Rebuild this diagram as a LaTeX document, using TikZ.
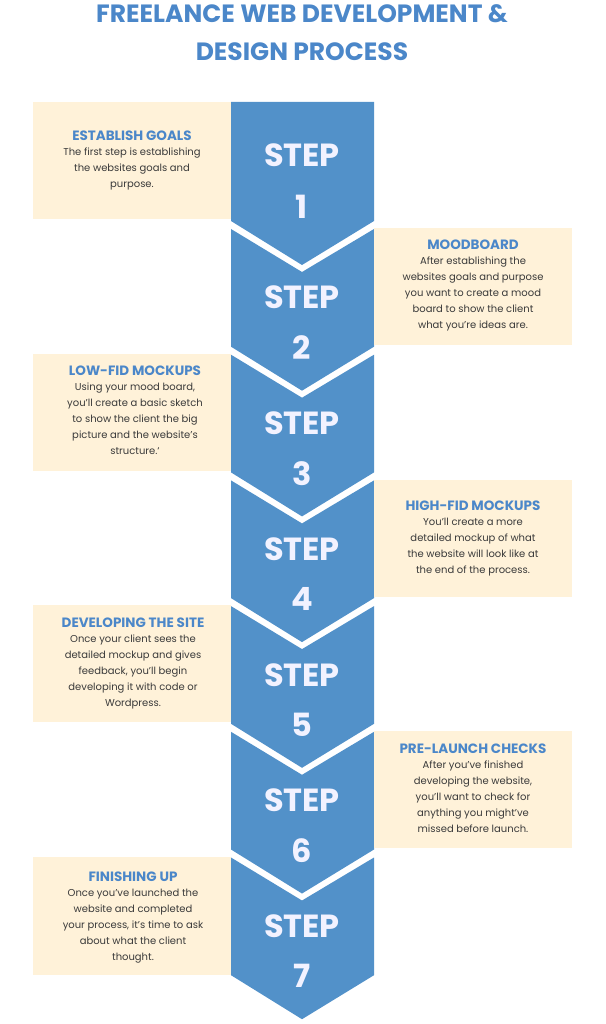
\documentclass[tikz,border=0pt]{standalone}
\usepackage{fontspec}
\setmainfont{Poppins}
\usetikzlibrary{positioning}
\definecolor{stepblue}{HTML}{5291C9}
\definecolor{headblue}{HTML}{4B87C9}
\definecolor{cream}{HTML}{FFF2D9}
\definecolor{bodygray}{HTML}{3A3A3A}
\tikzset{
  infobox/.style={fill=cream, minimum width=198pt, align=center, inner sep=0pt},
  boxhead/.style={text=headblue, font=\bfseries\fontsize{13.5}{16}\selectfont},
  boxbody/.style={text=bodygray, font=\fontsize{10}{16}\selectfont, align=center},
  steptext/.style={text=white!95!blue, font=\bfseries\fontsize{32}{34}\selectfont},
  titletext/.style={text=headblue, font=\bfseries\fontsize{25}{38}\selectfont, align=center}
}
\begin{document}
\begin{tikzpicture}[x=1pt,y=-1pt]
\useasboundingbox (0,0) rectangle (605,1024);
% title
\node[titletext] (title) at (302,33) {FREELANCE WEB DEVELOPMENT \&\\DESIGN PROCESS};

% chevrons
\foreach \k in {1,...,7}{
  \pgfmathsetmacro{\bot}{221+125.7*(\k-1)}
  \pgfmathsetmacro{\top}{\k==1 ? 102 : \bot-125.7+8}
  \pgfmathsetmacro{\notch}{\k==1 ? 102 : \top+43}
  \fill[stepblue] (231,\top) -- (302,\notch) -- (374,\top) -- (374,\bot)
    -- (302,\bot+44) -- (231,\bot) -- cycle;
  \pgfmathsetmacro{\wy}{\k==1 ? \bot-66 : \bot-49}
  \pgfmathsetmacro{\ny}{\k==1 ? \bot-14 : \bot+1}
  \node[steptext] (step\k) at (302,\wy) {STEP};
  \node[steptext] (num\k) at (302,\ny) {\k};
}

% boxes
\fill[cream] (33,102) rectangle (231,219);
\fill[cream] (374,228) rectangle (572,345);
\fill[cream] (33,354) rectangle (231,471);
\fill[cream] (374,480) rectangle (572,597);
\fill[cream] (33,605) rectangle (231,722);
\fill[cream] (374,731) rectangle (572,848);
\fill[cream] (33,857) rectangle (231,975);

% texts
\node[boxhead] (goals) at (132,136) {ESTABLISH GOALS};
\node[boxbody, below=0pt of goals] {The first step is establishing\\the websites goals and\\purpose.};
\node[boxhead] (mood) at (473,245) {MOODBOARD};
\node[boxbody, below=0pt of mood] {After establishing the\\websites goals and purpose\\you want to create a mood\\board to show the client\\what you’re ideas are.};
\node[boxhead] (lowfid) at (135,371) {LOW-FID MOCKUPS};
\node[boxbody, below=0pt of lowfid] {Using your mood board,\\you’ll create a basic sketch\\to show the client the big\\picture and the website’s\\structure.`};
\node[boxhead] (highfid) at (473,506) {HIGH-FID MOCKUPS};
\node[boxbody, below=0pt of highfid] {You’ll create a more\\detailed mockup of what\\the website will look like at\\the end of the process.};
\node[boxhead] (develop) at (133,623) {DEVELOPING THE SITE};
\node[boxbody, below=0pt of develop] {Once your client sees the\\detailed mockup and gives\\feedback, you’ll begin\\developing it with code or\\Wordpress.};
\node[boxhead] (prelaunch) at (473,749) {PRE-LAUNCH CHECKS};
\node[boxbody, below=0pt of prelaunch] {After you’ve finished\\developing the website,\\you’ll want to check for\\anything you might’ve\\missed before launch.};
\node[boxhead] (finish) at (133,877) {FINISHING UP};
\node[boxbody, below=0pt of finish] {Once you’ve launched the\\website and completed\\your process, it’s time to ask\\about what the client\\thought.};
\end{tikzpicture}
\end{document}
